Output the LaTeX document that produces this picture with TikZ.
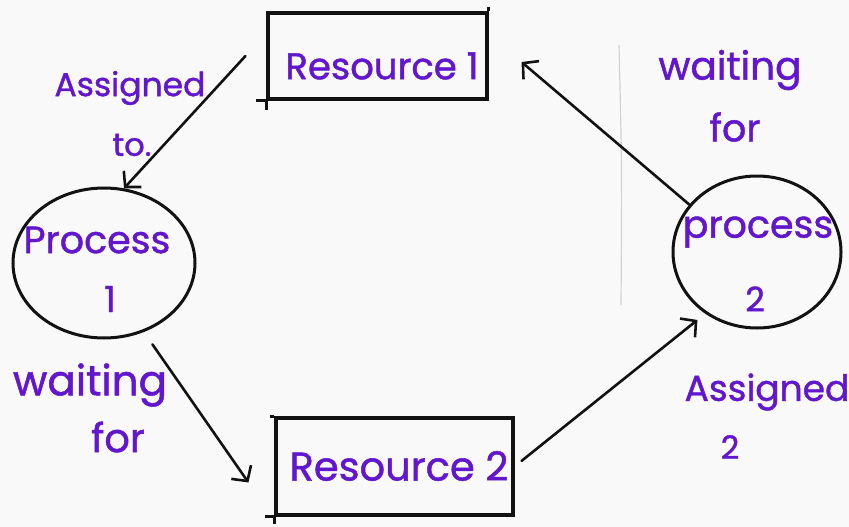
\documentclass[tikz,border=0pt]{standalone}
\usepackage{fontspec}
\newfontfamily\hand{Poppins}[FakeBold=1.2]
\usetikzlibrary{arrows.meta,calc,shapes.geometric}
\definecolor{ink}{RGB}{98,22,205}
\definecolor{pen}{RGB}{18,18,18}
\definecolor{paper}{RGB}{249,249,249}
\begin{document}
\begin{tikzpicture}[x=1pt,y=-1pt,
  resbox/.style={draw=pen,line width=3.1pt,rectangle,inner sep=0pt},
  proc/.style={draw=pen,line width=3pt,ellipse,inner sep=0pt},
  txt/.style={text=ink,inner sep=0pt,font=\hand\fontsize{#1}{#1}\selectfont},
  txt/.default=36,
  link/.style={draw=pen,line width=2.6pt,line cap=round,
    -{Straight Barb[length=11pt,width=24pt,line width=2.6pt]}},
  stub/.style={draw=pen,line width=3.1pt}]
\useasboundingbox (0,0) rectangle (849,527);
\fill[paper] (0,0) rectangle (849,527);

% faint pencil guide line
\draw[gray!35,line width=1.2pt] (619,45) .. controls (622,170) .. (621,305);

% resources
\node[resbox,minimum width=219pt,minimum height=86pt] (r1) at (377.5,56) {};
\node[resbox,minimum width=237pt,minimum height=97pt] (r2) at (394.5,466.5) {};
\draw[stub] (r1.south west) -- ++(0,9);
\draw[stub] (r1.south west) -- ++(-10,0);
\draw[stub] (r1.north east) -- ++(0,-4);
\draw[stub] (r2.south west) -- ++(0,7);
\draw[stub] (r2.south west) -- ++(-9,0);
\draw[stub] (r2.north west) -- ++(-4,0);

\node[txt=37] (r1t) at (382,66) {Resource 1};
\node[txt=40] (r2t) at (399,466) {Resource 2};

% processes
\node[proc,minimum width=182pt,minimum height=150pt] (p1) at (104,263) {};
\node[proc,minimum width=168pt,minimum height=152pt] (p2) at (757,252) {};
\node[txt=38] (p1t) at (97,240) {Process};
\node[txt=36] (p1n) at (110,299) {1};
\node[txt=38] (p2t) at (758,232) {process};
\node[txt=34] (p2n) at (755,299) {2};

% edges
\draw[link] ($(r1.west)+(-21,0)$) -- (p1.75);
\draw[link] (p2.145) -- ($(r1.east)+(33,6)$);
\draw[link,shorten <=15pt] (p1.-60) -- ($(r2.west)+(-26,16)$);
\draw[link,shorten <=9pt,shorten >=10pt] (r2.east) -- (p2.-130);

% edge labels
\node[txt=33] (la) at (130,88) {Assigned};
\node[txt=32] (lb) at (132,145) {to.};
\node[txt=39] (lc) at (730,70) {waiting};
\node[txt=38] (ld) at (735,127) {for};
\node[txt=42] (le) at (90,385) {waiting};
\node[txt=40] (lf) at (118,437) {for};
\node[txt=36] (lg) at (767,392) {Assigned};
\node[txt=32] (lh) at (730,447) {2};
\end{tikzpicture}
\end{document}
